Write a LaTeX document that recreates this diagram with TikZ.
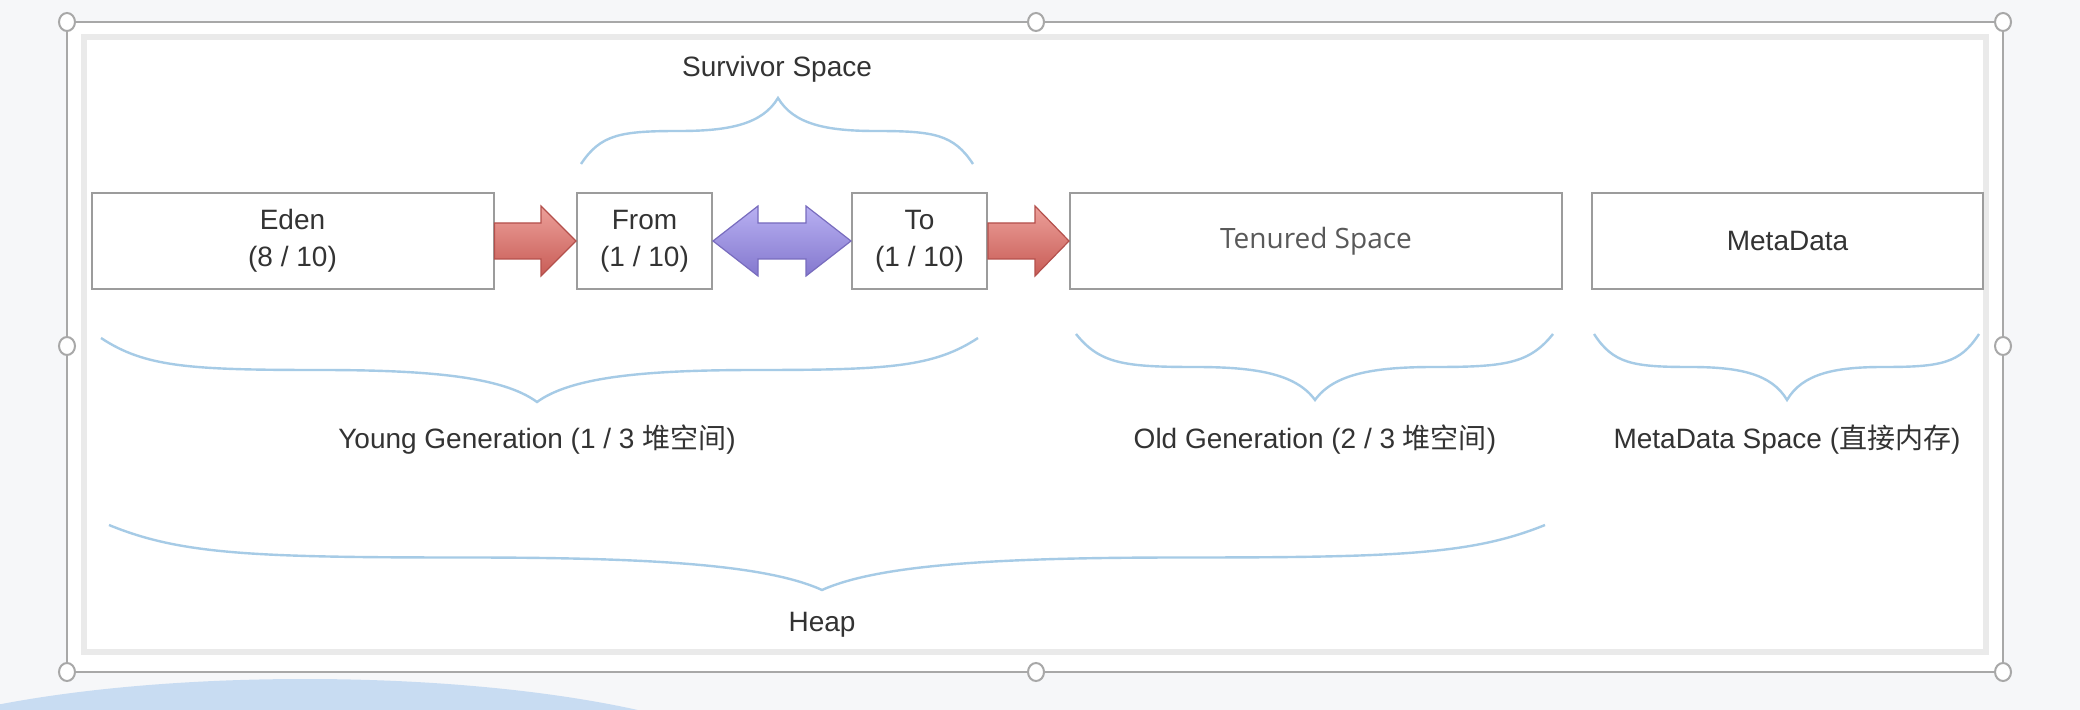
\documentclass[tikz,border=0pt]{standalone}
\usepackage{fontspec}
\setmainfont{Liberation Sans}
\newfontfamily\cjk{Noto Sans CJK SC}
\newfontfamily\segoe{Open Sans}
\usetikzlibrary{calc}
\definecolor{bggray}{HTML}{F6F7F9}
\definecolor{boxgray}{HTML}{9C9C9C}
\definecolor{txt}{HTML}{333333}
\definecolor{bracec}{HTML}{A6CBE6}
\definecolor{selgray}{HTML}{A8A8A8}
\definecolor{framegray}{HTML}{EAEAEA}
\definecolor{blob}{HTML}{C8DCF2}
\definecolor{redtop}{RGB}{236,160,154}
\definecolor{redbot}{RGB}{200,92,86}
\definecolor{redline}{RGB}{180,80,76}
\definecolor{purtop}{RGB}{184,176,242}
\definecolor{purbot}{RGB}{132,120,206}
\definecolor{purline}{RGB}{120,108,190}
\newcommand{\hbr}[5]{%
 \pgfmathsetmacro\bL{#3-#1}\pgfmathsetmacro\bR{#2-#3}%
 \pgfmathsetmacro\bh{#5-#4}\pgfmathsetmacro\bm{#4+0.5*\bh}%
 \draw[bracestyle] (#1,#4) .. controls ({#1+0.1*\bL},{#4+0.45*\bh}) and ({#1+0.2*\bL},\bm) .. ({#1+0.5*\bL},\bm)
  .. controls ({#3-0.25*\bL},\bm) and ({#3-0.08*\bL},{\bm+0.1*\bh}) .. (#3,#5)
  .. controls ({#3+0.08*\bR},{\bm+0.1*\bh}) and ({#3+0.25*\bR},\bm) .. ({#2-0.5*\bR},\bm)
  .. controls ({#2-0.2*\bR},\bm) and ({#2-0.1*\bR},{#4+0.45*\bh}) .. (#2,#4);}
\begin{document}
\begin{tikzpicture}[x=0.5pt,y=-0.5pt,
  box/.style={draw=boxgray,fill=white,line width=1pt,inner sep=0pt,minimum height=48pt,
    align=center,text=txt,font=\fontsize{14}{18.5}\selectfont},
  lbl/.style={text=txt,inner sep=0pt,font=\fontsize{14}{16}\selectfont},
  bracestyle/.style={draw=bracec,line width=1.2pt},
  redarrow/.style={draw=redline,top color=redtop,bottom color=redbot,line width=0.6pt},
  purarrow/.style={draw=purline,top color=purtop,bottom color=purbot,line width=0.6pt},
  handle/.style={draw=selgray,fill=white,line width=1pt}]
\useasboundingbox (0,0) rectangle (2080,710);
\fill[bggray] (0,0) rectangle (2080,710);
% blue blob
\begin{scope}
\clip (0,0) rectangle (2080,710);
\fill[blob] (305,790) ellipse [x radius=480, y radius=111];
\end{scope}
% selection frame
\fill[white] (67,22) rectangle (2003,672);
\draw[selgray,line width=0.9pt] (67,22) rectangle (2003,672);
\draw[framegray,line width=3pt] (84,37) rectangle (1986,652);
\foreach \hx/\hy in {67/22,1036/22,2003/22,67/346,2003/346,67/672,1036/672,2003/672}
  \draw[handle] (\hx,\hy) ellipse [x radius=8, y radius=9];
% boxes
\node[box,minimum width=201pt] (eden) at (292.5,241) {Eden\\(8 / 10)};
\node[box,minimum width=67.5pt] (from) at (644.5,241) {From\\(1 / 10)};
\node[box,minimum width=67.5pt] (to) at (919.5,241) {To\\(1 / 10)};
\node[box,minimum width=246pt,font=\segoe\fontsize{14}{15}\selectfont,text=black!65] (ten) at (1316,241) {\raisebox{-1.5pt}{Tenured Space}};
\node[box,minimum width=195.5pt] (meta) at (1787.5,241) {\raisebox{-1.5pt}{MetaData}};
% arrows
\draw[redarrow]
  ($(eden.east)+(0,-18)$) -- ($(from.west)+(-35,-18)$) -- ($(from.west)+(-35,-35)$) -- (from.west)
  -- ($(from.west)+(-35,35)$) -- ($(from.west)+(-35,18)$) -- ($(eden.east)+(0,18)$) -- cycle;
\draw[redarrow]
  ($(to.east)+(0,-18)$) -- ($(ten.west)+(-34,-18)$) -- ($(ten.west)+(-34,-35)$) -- (ten.west)
  -- ($(ten.west)+(-34,35)$) -- ($(ten.west)+(-34,18)$) -- ($(to.east)+(0,18)$) -- cycle;
\draw[purarrow]
  (from.east) -- ($(from.east)+(45,-35)$) -- ($(from.east)+(45,-18)$) -- ($(to.west)+(-45,-18)$)
  -- ($(to.west)+(-45,-35)$) -- (to.west) -- ($(to.west)+(-45,35)$) -- ($(to.west)+(-45,18)$)
  -- ($(from.east)+(45,18)$) -- ($(from.east)+(45,35)$) -- cycle;
% braces
\hbr{581}{973}{778}{164}{98}
\hbr{101}{978}{537}{338}{402}
\hbr{1076}{1553}{1315}{334}{400}
\hbr{1594}{1979}{1787}{334}{400}
\hbr{109}{1545}{822}{525}{590}
% labels
\node[lbl] (surv) at (777,69) {Survivor Space};
\node[lbl] (young) at (537,440) {Young Generation (1 / 3 {\cjk 堆空间})};
\node[lbl] (old) at (1315,440) {Old Generation (2 / 3 {\cjk 堆空间})};
\node[lbl] (metas) at (1787,440) {MetaData Space ({\cjk 直接内存})};
\node[lbl] (heap) at (822,625) {Heap};
\end{tikzpicture}
\end{document}
